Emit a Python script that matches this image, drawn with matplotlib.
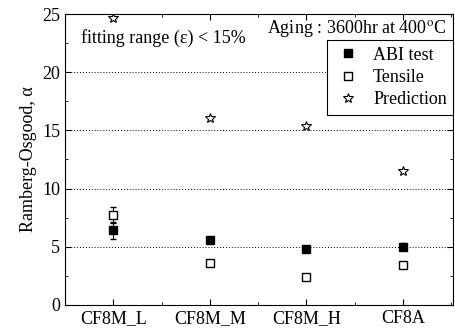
import numpy as np
import matplotlib
matplotlib.use('Agg')
from matplotlib import pyplot as plt
from matplotlib.ticker import MultipleLocator
from matplotlib.lines import Line2D

plt.rcParams['font.family'] = ['Liberation Serif', 'DejaVu Serif']
plt.rcParams['mathtext.fontset'] = 'stix'

# data
categories = ['CF8M_L', 'CF8M_M', 'CF8M_H', 'CF8A']
abi = [6.4, 5.6, 4.8, 5.0]
abi_err = [0.7, 0.0, 0.0, 0.3]
tensile = [7.7, 3.6, 2.4, 3.4]
tensile_err = [0.7, 0.0, 0.1, 0.0]
prediction = [24.7, 16.1, 15.4, 11.5]

x = np.arange(len(categories))

fig = plt.figure(figsize=(4.55, 3.35), dpi=100)
ax = fig.add_axes([0.143, 0.09, 0.853, 0.868])

ax.errorbar(x, abi, yerr=abi_err, fmt='s', color='black', ms=5.5,
            capsize=2, elinewidth=0.8, zorder=3)
ax.errorbar(x, tensile, yerr=tensile_err, fmt='s', mfc='white', mec='black',
            ecolor='black', ms=5.5, capsize=2, elinewidth=0.8, zorder=3)
ax.plot(x, prediction, '*', mfc='white', mec='black', ms=7, mew=0.8,
        linestyle='none', zorder=3)

ax.set_xlim(-0.5, 3.52)
ax.set_ylim(0, 25)
ax.set_xticks(x)
ax.set_xticklabels(categories, fontsize=13)
ax.xaxis.set_minor_locator(MultipleLocator(0.5))
ax.yaxis.set_major_locator(MultipleLocator(5))
ax.yaxis.set_minor_locator(MultipleLocator(2.5))
ax.tick_params(which='both', direction='in', top=True, right=True, labelsize=13)
ax.tick_params(which='major', length=4)
ax.tick_params(which='minor', length=2.5)
ax.grid(axis='y', which='major', linestyle=(0, (1, 2)), color='black', linewidth=0.7)
ax.set_ylabel('Ramberg-Osgood, α', fontsize=13, labelpad=4)

ax.text(0.04, 0.917, 'fitting range (ε) < 15%', transform=ax.transAxes,
        fontsize=13, va='center')
ax.text(0.982, 0.952, 'Aging : 3600hr at 400$^{\\mathrm{o}}$C', transform=ax.transAxes,
        fontsize=13, va='center', ha='right')

handles = [
    Line2D([], [], marker='s', color='black', ls='none', ms=5.5),
    Line2D([], [], marker='s', mfc='white', mec='black', ls='none', ms=5.5),
    Line2D([], [], marker='*', mfc='white', mec='black', ls='none', ms=7, mew=0.8),
]
leg = ax.legend(handles, ['ABI test', 'Tensile', 'Prediction'],
                loc='upper right', bbox_to_anchor=(1.0, 0.91), fontsize=13,
                frameon=True, fancybox=False, edgecolor='black', framealpha=1,
                handletextpad=0.6, borderpad=0.35, labelspacing=0.3,
                handlelength=1.6, borderaxespad=0)
leg.get_frame().set_linewidth(0.8)

fig.savefig('out.png', dpi=100)
